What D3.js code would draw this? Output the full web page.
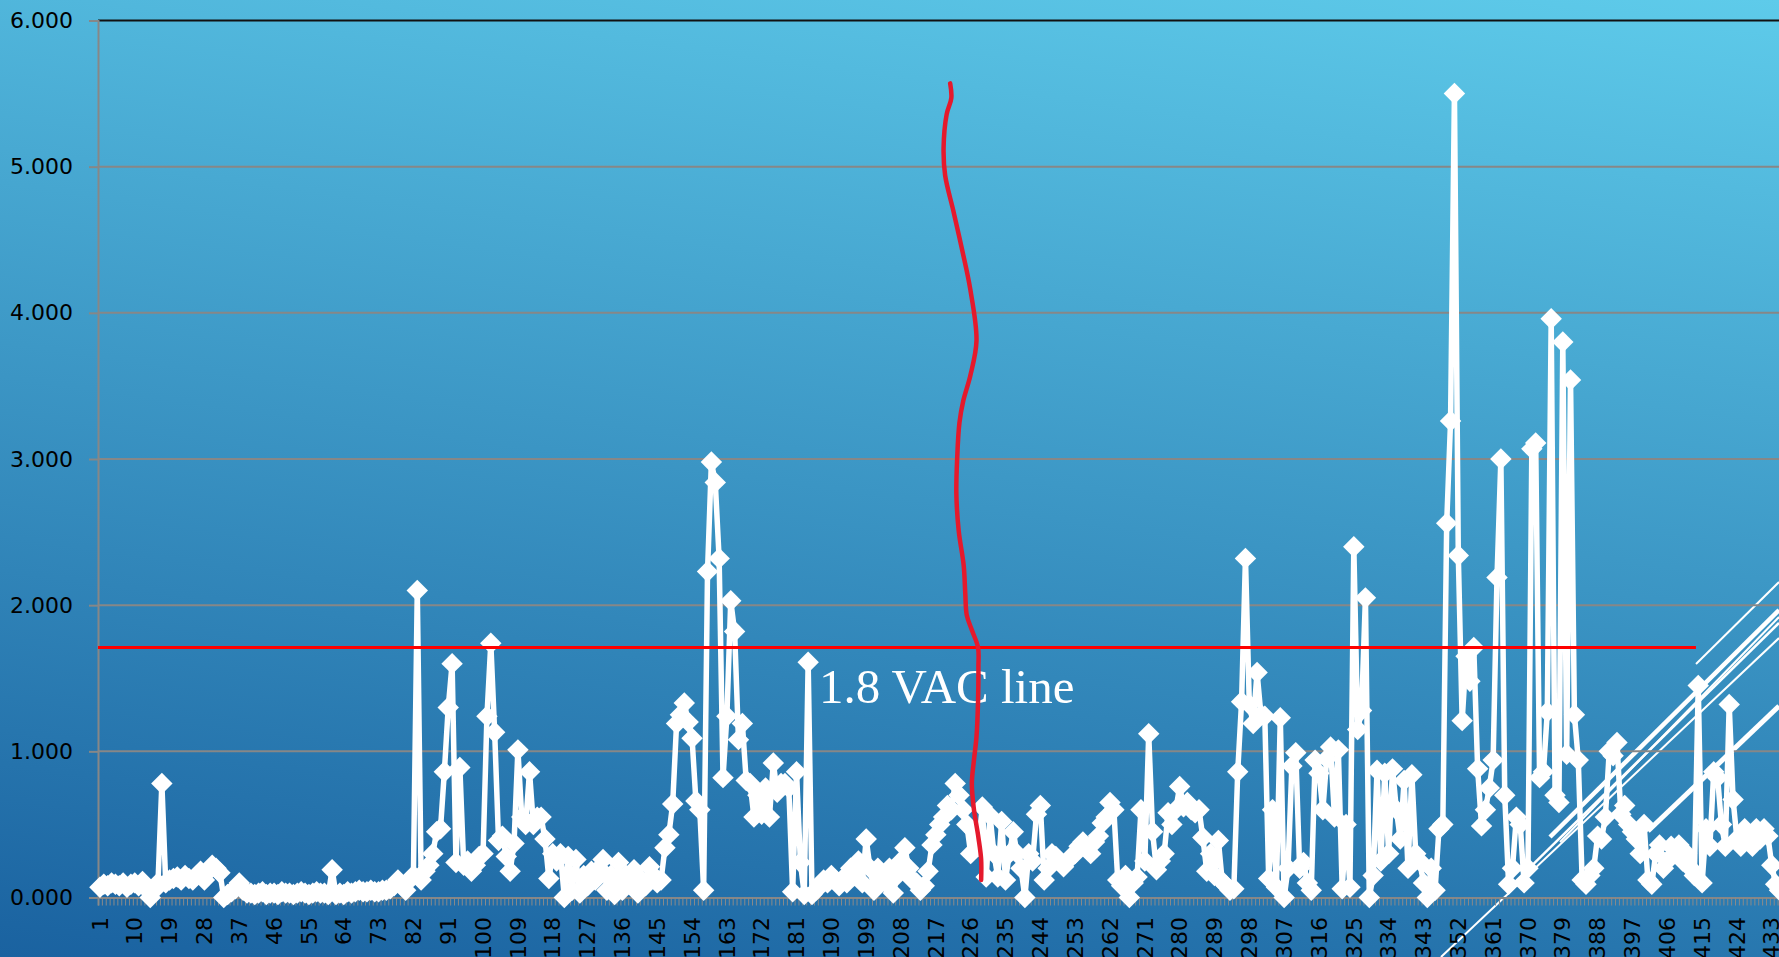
<!DOCTYPE html>
<html>
<head>
<meta charset="utf-8">
<script src="https://cdn.jsdelivr.net/npm/d3@7"></script>
<style>
  html, body { margin: 0; padding: 0; overflow: hidden; background: #2a80b2; }
  svg { display: block; }
</style>
</head>
<body>
<div id="viz"></div>
<script>
// readings, one per sample (1..435)
const values = [
    0.07, 0.09, 0.08, 0.10, 0.09, 0.08, 0.10, 0.07, 0.09, 0.10,
    0.08, 0.11, 0.06, 0.00, 0.05, 0.10, 0.78, 0.10, 0.12, 0.13,
    0.14, 0.12, 0.15, 0.13, 0.12, 0.15, 0.18, 0.12, 0.18, 0.22,
    0.20, 0.17, 0.00, 0.02, 0.04, 0.06, 0.10, 0.05, 0.03, 0.03,
    0.02, 0.03, 0.04, 0.02, 0.03, 0.03, 0.02, 0.04, 0.03, 0.03,
    0.02, 0.03, 0.04, 0.03, 0.02, 0.03, 0.04, 0.03, 0.03, 0.02,
    0.19, 0.02, 0.03, 0.02, 0.04, 0.03, 0.04, 0.05, 0.04, 0.04,
    0.05, 0.04, 0.04, 0.05, 0.05, 0.06, 0.08, 0.12, 0.08, 0.05,
    0.12, 0.15, 2.10, 0.12, 0.18, 0.22, 0.30, 0.45, 0.47, 0.86,
    1.30, 1.60, 0.24, 0.89, 0.22, 0.25, 0.18, 0.22, 0.28, 0.30,
    1.24, 1.74, 1.13, 0.39, 0.42, 0.28, 0.18, 0.37, 1.01, 0.55,
    0.50, 0.86, 0.50, 0.55, 0.55, 0.40, 0.13, 0.30, 0.25, 0.30,
    0.00, 0.28, 0.05, 0.26, 0.03, 0.15, 0.08, 0.18, 0.12, 0.20,
    0.26, 0.05, 0.15, 0.02, 0.24, 0.05, 0.15, 0.10, 0.19, 0.03,
    0.12, 0.08, 0.21, 0.15, 0.10, 0.12, 0.34, 0.43, 0.64, 1.19,
    1.25, 1.33, 1.20, 1.09, 0.66, 0.60, 0.05, 2.23, 2.98, 2.84,
    2.32, 0.82, 1.24, 2.03, 1.82, 1.08, 1.19, 0.80, 0.78, 0.55,
    0.70, 0.57, 0.75, 0.55, 0.92, 0.72, 0.78, 0.78, 0.75, 0.04,
    0.86, 0.24, 0.02, 1.61, 0.02, 0.05, 0.08, 0.12, 0.10, 0.15,
    0.12, 0.08, 0.13, 0.10, 0.20, 0.15, 0.25, 0.10, 0.40, 0.20,
    0.05, 0.20, 0.15, 0.10, 0.20, 0.03, 0.15, 0.25, 0.34, 0.20,
    0.12, 0.10, 0.05, 0.08, 0.18, 0.36, 0.43, 0.50, 0.55, 0.63,
    0.60, 0.78, 0.70, 0.60, 0.50, 0.30, 0.45, 0.35, 0.62, 0.14,
    0.56, 0.30, 0.14, 0.52, 0.12, 0.30, 0.45, 0.30, 0.20, 0.00,
    0.30, 0.25, 0.57, 0.63, 0.12, 0.20, 0.30, 0.28, 0.25, 0.21,
    0.25, 0.28, 0.30, 0.35, 0.38, 0.34, 0.30, 0.38, 0.42, 0.51,
    0.55, 0.65, 0.60, 0.12, 0.08, 0.15, 0.00, 0.10, 0.14, 0.60,
    0.25, 1.12, 0.45, 0.19, 0.25, 0.30, 0.58, 0.50, 0.60, 0.76,
    0.62, 0.65, 0.60, 0.58, 0.60, 0.41, 0.18, 0.30, 0.15, 0.39,
    0.11, 0.08, 0.05, 0.06, 0.86, 1.34, 2.32, 1.32, 1.19, 1.54,
    1.25, 1.24, 0.13, 0.60, 0.07, 1.23, 0.00, 0.20, 0.90, 0.99,
    0.20, 0.24, 0.10, 0.05, 0.94, 0.85, 0.60, 0.95, 1.03, 0.55,
    1.01, 0.06, 0.50, 0.07, 2.40, 1.15, 1.28, 2.05, 0.00, 0.15,
    0.87, 0.25, 0.85, 0.30, 0.88, 0.60, 0.40, 0.80, 0.20, 0.84,
    0.30, 0.25, 0.10, 0.00, 0.20, 0.05, 0.47, 0.50, 2.56, 3.26,
    5.50, 2.34, 1.21, 1.65, 1.48, 1.71, 0.88, 0.49, 0.60, 0.75,
    0.94, 2.19, 3.00, 0.70, 0.09, 0.20, 0.55, 0.50, 0.10, 0.20,
    3.07, 3.11, 0.82, 0.86, 1.27, 3.96, 0.70, 0.65, 3.80, 0.98,
    3.54, 1.25, 0.94, 0.12, 0.09, 0.15, 0.20, 0.42, 0.40, 0.55,
    1.00, 0.97, 1.06, 0.57, 0.63, 0.50, 0.45, 0.40, 0.30, 0.50,
    0.12, 0.09, 0.30, 0.36, 0.20, 0.25, 0.35, 0.30, 0.36, 0.25,
    0.30, 0.20, 0.15, 1.45, 0.10, 0.47, 0.35, 0.86, 0.82, 0.50,
    0.35, 1.32, 0.67, 0.40, 0.35, 0.47, 0.40, 0.35, 0.47, 0.40,
    0.47, 0.42, 0.22, 0.09, 0.05
];

const yTicks = [0, 1, 2, 3, 4, 5, 6];

const xTickLabels = [1, 10, 19, 28, 37, 46, 55, 64, 73, 82, 91, 100, 109, 118, 127,
    136, 145, 154, 163, 172, 181, 190, 199, 208, 217, 226, 235, 244, 253, 262, 271,
    280, 289, 298, 307, 316, 325, 334, 343, 352, 361, 370, 379, 388, 397, 406, 415,
    424, 433];

// the red threshold line drawn on the slide
const vacLevel = 1.71;
const vacLineEnd = 413.4;
const vacLabel = "1.8 VAC line";
const vacLabelAt = [186.8, 1.33];

// hand drawn red stroke, [sample, value]
const handStroke = [
    [220.7, 5.57], [221.0, 5.47], [219.8, 5.36], [219.0, 5.13], [219.4, 4.94],
    [221.5, 4.70], [223.8, 4.43], [225.9, 4.16], [227.5, 3.81], [225.9, 3.57],
    [224.1, 3.40], [223.1, 3.25], [222.5, 3.00], [222.3, 2.76], [222.9, 2.51],
    [224.2, 2.27], [224.6, 2.08], [225.0, 1.93], [226.3, 1.83], [227.9, 1.71],
    [228.0, 1.58], [227.9, 1.34], [227.5, 1.10], [226.8, 0.93], [226.3, 0.78],
    [226.8, 0.61], [228.0, 0.41], [228.7, 0.26], [228.7, 0.12]
];

const width = 1779;
const height = 957;
const step = 3.87;
const left = 98;

const svg = d3.select("#viz").append("svg")
    .attr("width", width)
    .attr("height", height);

const defs = svg.append("defs");
const grad = defs.append("linearGradient")
    .attr("id", "bg")
    .attr("gradientUnits", "userSpaceOnUse")
    .attr("x1", 32).attr("y1", -235)
    .attr("x2", -126).attr("y2", 940);
grad.append("stop").attr("offset", 0).attr("stop-color", "#5ecbea");
grad.append("stop").attr("offset", 1).attr("stop-color", "#1a62a0");

svg.append("rect")
    .attr("width", width)
    .attr("height", height)
    .attr("fill", "url(#bg)");

// slide decoration in the lower right corner
const deco = [
    [1696, 664, 1779, 582, 2],
    [1550, 837, 1779, 610, 4.5],
    [1560, 842, 1779, 617, 2],
    [1512, 885, 1779, 623, 2.5],
    [1441, 957, 1779, 638, 2],
    [1648, 831, 1779, 706, 5]
];
svg.append("g").selectAll("line")
    .data(deco)
    .join("line")
        .attr("x1", d => d[0]).attr("y1", d => d[1])
        .attr("x2", d => d[2]).attr("y2", d => d[3])
        .attr("stroke", "white")
        .attr("stroke-width", d => d[4]);

const x = d3.scaleLinear()
    .domain([0.5, values.length + 0.5])
    .range([left, left + values.length * step]);

const y = d3.scaleLinear()
    .domain([0, 6])
    .range([897.5, 20.5]);

// gridlines
svg.append("g")
    .selectAll("line")
    .data(yTicks.filter(d => d > 0))
    .join("line")
        .attr("x1", left)
        .attr("x2", width)
        .attr("y1", d => y(d))
        .attr("y2", d => y(d))
        .attr("stroke", d => d === 6 ? "#111" : "#878787")
        .attr("stroke-width", 2);

const yAxis = svg.append("g")
    .attr("transform", `translate(${left},0)`)
    .call(d3.axisLeft(y).tickValues(yTicks).tickFormat(d3.format(".3f")).tickSize(9).tickPadding(16));
yAxis.select(".domain").attr("stroke", "#878787").attr("stroke-width", 2);
yAxis.selectAll(".tick line").attr("stroke", "#878787").attr("stroke-width", 2);
yAxis.selectAll(".tick text")
    .attr("fill", "black")
    .style("font-family", "'DejaVu Sans', sans-serif")
    .style("font-size", "22px");

const xAxis = svg.append("g")
    .attr("transform", `translate(0,${y(0)})`)
    .call(d3.axisBottom(x)
        .tickValues(d3.range(0.5, values.length + 1, 1))
        .tickSize(8)
        .tickFormat(""));
xAxis.select(".domain").attr("stroke", "#878787").attr("stroke-width", 2);
xAxis.selectAll(".tick line").attr("stroke", "#8a8a8a").attr("stroke-width", 1);

svg.append("g")
    .selectAll("text")
    .data(xTickLabels)
    .join("text")
        .attr("transform", d => `translate(${x(d)},917) rotate(-90)`)
        .attr("text-anchor", "end")
        .attr("dy", "0.35em")
        .attr("fill", "black")
        .style("font-family", "'DejaVu Sans', sans-serif")
        .style("font-size", "22px")
        .text(d => d);

// series
const line = d3.line()
    .x((d, i) => x(i + 1))
    .y(d => y(d));

svg.append("path")
    .datum(values)
    .attr("fill", "none")
    .attr("stroke", "white")
    .attr("stroke-width", 5.5)
    .attr("stroke-linejoin", "round")
    .attr("d", line);

const diamond = d3.symbol(d3.symbolSquare, 230);
svg.append("g")
    .selectAll("path")
    .data(values)
    .join("path")
        .attr("transform", (d, i) => `translate(${x(i + 1)},${y(d)}) rotate(45)`)
        .attr("d", diamond)
        .attr("fill", "white");

// 1.8 VAC threshold
svg.append("line")
    .attr("x1", x(0.5))
    .attr("x2", x(vacLineEnd))
    .attr("y1", y(vacLevel))
    .attr("y2", y(vacLevel))
    .attr("stroke", "#ff0000")
    .attr("stroke-width", 3);

svg.append("text")
    .attr("x", x(vacLabelAt[0]))
    .attr("y", y(vacLabelAt[1]))
    .attr("fill", "white")
    .style("font-family", "'Liberation Serif', 'Times New Roman', serif")
    .style("font-size", "49px")
    .text(vacLabel);

svg.append("path")
    .datum(handStroke)
    .attr("fill", "none")
    .attr("stroke", "#e5192c")
    .attr("stroke-width", 4.5)
    .attr("stroke-linecap", "round")
    .attr("d", d3.line().x(d => x(d[0])).y(d => y(d[1])).curve(d3.curveCatmullRom));
</script>
</body>
</html>
